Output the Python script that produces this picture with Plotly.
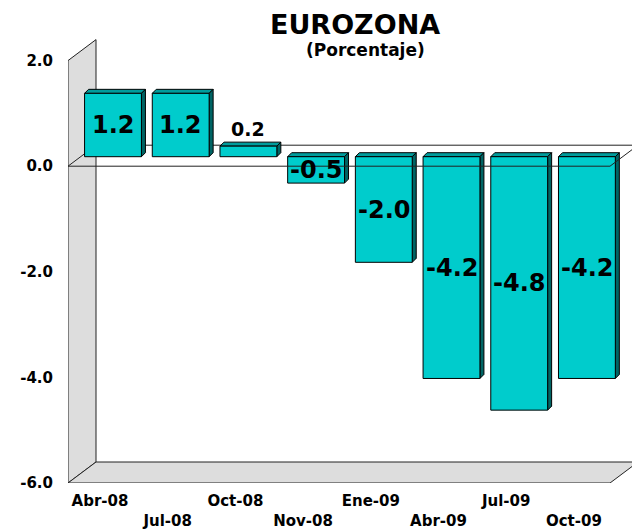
import plotly.graph_objects as go

# ---------------- data ----------------
categories = ["Abr-08", "Jul-08", "Oct-08", "Nov-08", "Ene-09", "Abr-09", "Jul-09", "Oct-09"]
values = [1.2, 1.2, 0.2, -0.5, -2.0, -4.2, -4.8, -4.2]
value_labels = ["1.2", "1.2", "0.2", "-0.5", "-2.0", "-4.2", "-4.8", "-4.2"]
y_tick_vals = [2, 0, -2, -4, -6]
y_tick_text = ["2.0", "0.0", "-2.0", "-4.0", "-6.0"]
title_text = "EUROZONA"
subtitle_text = "(Porcentaje)"

# ---------------- geometry (pixels) ----------------
OFF = 8                      # default page body margin
W, H = 640 - OFF, 531 - OFF
ML, MR, MT, MB = 68 - OFF, 0, 38 - OFF, 48
PW = W - ML - MR
PH = H - MT - MB
SX = 67.7          # px per category
SY = 52.8          # px per unit
X_FRONT0 = 100     # window pixel of first category on the front plane
BDX, BDY = 13, 9.5 # bar plane offset from front plane (px right, px up)
WDX, WDY = 28, 21  # full depth of the box (px right, px up)
FDX, FDY = 4, 4    # bar depth (px)
FLOOR_RIGHT = 610  # window pixel of front right corner of floor

PL = ML + OFF      # window pixel of plot left edge
xr_front = [-(X_FRONT0 - PL) / SX, -(X_FRONT0 - PL) / SX + PW / SX]
yr_front = [-6, -6 + PH / SY]
xr_bar = [v - BDX / SX for v in xr_front]
yr_bar = [v - BDY / SY for v in yr_front]

FONT = "DejaVu Sans"
FACE = "#00CCCC"
TOP = "#009C9C"
SIDE = "#006464"
WALL = "#DDDDDD"

fig = go.Figure()

fig.add_trace(go.Bar(
    x=categories, y=values, xaxis="x2", yaxis="y2", width=0.84,
    marker=dict(color=FACE, line=dict(color="#000000", width=1)),
    hoverinfo="skip", showlegend=False,
))

shapes = []
# walls (front axes)
x0 = xr_front[0]
xR = xr_front[0] + (FLOOR_RIGHT - PL) / SX
DX, DY = WDX / SX, WDY / SY
ytop, ybot = y_tick_vals[0], y_tick_vals[-1]
edge = dict(color="#222222", width=1)
shapes.append(dict(type="path", xref="x", yref="y", layer="below",
                   path=f"M{x0},{ytop} L{x0},{ybot} L{x0+DX},{ybot+DY} L{x0+DX},{ytop+DY} Z",
                   fillcolor=WALL, line=edge))
shapes.append(dict(type="path", xref="x", yref="y", layer="below",
                   path=f"M{x0},{ybot} L{x0+DX},{ybot+DY} L{xR+DX},{ybot+DY} L{xR},{ybot} Z",
                   fillcolor=WALL, line=edge))
# back zero line and left diagonal
shapes.append(dict(type="line", xref="x", yref="y", layer="below",
                   x0=x0 + DX, y0=DY, x1=xR + DX, y1=DY, line=edge))
shapes.append(dict(type="line", xref="x", yref="y", layer="below",
                   x0=x0, y0=0, x1=x0 + DX, y1=DY, line=edge))

# 3D faces of bars (bar axes)
ddx, ddy = FDX / SX, FDY / SY
hw = 0.84 / 2
for i, v in enumerate(values):
    top, bot = max(v, 0), min(v, 0)
    l, r = i - hw, i + hw
    shapes.append(dict(type="path", xref="x2", yref="y2", layer="below",
                       path=f"M{l},{top} L{l+ddx},{top+ddy} L{r+ddx},{top+ddy} L{r},{top} Z",
                       fillcolor=TOP, line=dict(color="#000000", width=1)))
    shapes.append(dict(type="path", xref="x2", yref="y2", layer="below",
                       path=f"M{r},{top} L{r+ddx},{top+ddy} L{r+ddx},{bot+ddy} L{r},{bot} Z",
                       fillcolor=SIDE, line=dict(color="#000000", width=1)))

# front zero line + right diagonal (over bars)
shapes.append(dict(type="line", xref="x", yref="y", layer="above",
                   x0=x0, y0=0, x1=xR, y1=0, line=edge))
shapes.append(dict(type="line", xref="x", yref="y", layer="above",
                   x0=xR, y0=0, x1=xR + DX, y1=DY, line=edge))

annotations = []
for i, (v, t) in enumerate(zip(values, value_labels)):
    inside = abs(v) >= 0.4
    annotations.append(dict(
        x=i, y=v / 2 if inside else v, xref="x2", yref="y2",
        text=t, showarrow=False, xanchor="center", yanchor="middle",
        yshift=0 if inside else 17,
        font=dict(family=FONT, size=24 if inside else 19, color="#000000", weight="bold"),
    ))
PB = MT + OFF + PH   # window pixel of plot bottom
annotations.append(dict(
    x=(355 - PL) / PW, y=(PB - OFF) / PH, xref="paper", yref="paper",
    text=title_text, showarrow=False, xanchor="center", yanchor="top", borderpad=0,
    font=dict(family=FONT, size=27, color="#000000", weight="bold")))
annotations.append(dict(
    x=(365 - PL) / PW, y=(PB - 50) / PH, xref="paper", yref="paper",
    text=subtitle_text, showarrow=False, xanchor="center", yanchor="middle", borderpad=0,
    font=dict(family=FONT, size=17, color="#000000", weight="bold")))

tick_text_x = [c if i % 2 == 0 else "<br>" + c for i, c in enumerate(categories)]

fig.update_layout(
    width=W, height=H,
    margin=dict(l=ML, r=MR, t=MT, b=MB, pad=0),
    paper_bgcolor="white", plot_bgcolor="white",
    showlegend=False,
    shapes=shapes, annotations=annotations,
    xaxis=dict(range=xr_front, tickmode="array", tickvals=list(range(len(categories))),
               ticktext=tick_text_x, showgrid=False, zeroline=False, showline=False,
               ticks="", ticklabelstandoff=7,
               tickfont=dict(family=FONT, size=15, color="#000000", weight="bold"),
               fixedrange=True),
    yaxis=dict(range=yr_front, tickmode="array", tickvals=y_tick_vals, ticktext=y_tick_text,
               showgrid=False, zeroline=False, showline=False, ticks="",
               ticklabelstandoff=14,
               tickfont=dict(family=FONT, size=15, color="#000000", weight="bold"),
               fixedrange=True),
    xaxis2=dict(overlaying="x", range=xr_bar, visible=False, type="category", fixedrange=True),
    yaxis2=dict(overlaying="y", range=yr_bar, visible=False, fixedrange=True),
)

fig.write_html("out.html")
